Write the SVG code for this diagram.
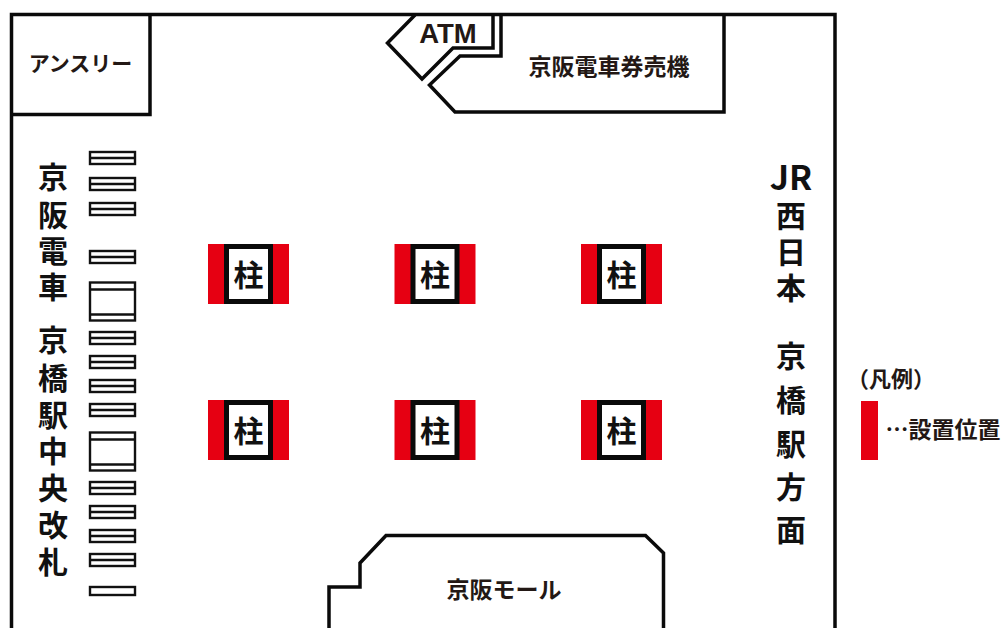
<svg xmlns="http://www.w3.org/2000/svg" width="1001" height="628" viewBox="0 0 1001 628">
<style>
.l{fill:none;stroke:#0a0a0a;stroke-width:3.5;stroke-miterlimit:10}
.g{fill:#fff;stroke:#111;stroke-width:2.400}
.gl{fill:none;stroke:#111;stroke-width:2.400}
.t{font-family:"Noto Sans CJK JP","Noto Sans",sans-serif;font-weight:700;fill:#231815;text-anchor:middle;dominant-baseline:central}
.v{font-size:30px;fill:#111}
.p{font-size:30px;fill:#111}
.red{fill:#e60012}
</style>
<defs>
<g id="gate"><rect class="g" x="90" y="0" width="45" height="12"/><line class="gl" x1="90" y1="6" x2="135" y2="6"/></g>
<g id="wide"><rect class="g" x="90" y="0" width="45" height="38"/><line class="gl" x1="90" y1="7" x2="135" y2="7"/><line class="gl" x1="90" y1="32" x2="135" y2="32"/></g>
<g id="pillar"><rect class="red" x="0" y="0" width="81" height="60"/><rect x="18.500" y="2.500" width="44" height="55" fill="#fff" stroke="#0a0a0a" stroke-width="5"/></g>
</defs>
<rect width="1001" height="628" fill="#fff"/>
<g id="walls"><path class="l" d="M11.500 628V14.500H835V628"/></g>
<g id="anshuri"><path class="l" d="M11.500 114.500H150V14.500"/><text class="t" x="80.500" y="62" font-size="21">アンスリー</text></g>
<g id="atm"><path class="l" d="M415 15L387.500 43L422 79L453 48H493V15"/><text x="448" y="33" font-family="Liberation Sans,sans-serif" font-size="27.500" font-weight="700" fill="#231815" text-anchor="middle" dominant-baseline="central">ATM</text></g>
<g id="ticket"><path class="l" d="M501 15V56H460L429.500 85L455 112H724V15"/><text class="t" x="609" y="65" font-size="23">京阪電車券売機</text></g>
<g id="gates">
<use href="#gate" y="152"/><use href="#gate" y="178"/><use href="#gate" y="203"/><use href="#gate" y="251"/>
<use href="#wide" y="282.500"/>
<use href="#gate" y="332"/><use href="#gate" y="356"/><use href="#gate" y="380"/><use href="#gate" y="404"/>
<use href="#wide" y="432.500"/>
<use href="#gate" y="482"/><use href="#gate" y="506"/><use href="#gate" y="530"/><use href="#gate" y="554"/>
<rect class="g" x="90" y="587" width="45" height="8"/>
</g>
<g id="label-left"><text class="t v"><tspan x="53" y="175">京</tspan><tspan x="53" y="213">阪</tspan><tspan x="53" y="249">電</tspan><tspan x="53" y="285">車</tspan><tspan x="53" y="338">京</tspan><tspan x="53" y="376">橋</tspan><tspan x="53" y="413">駅</tspan><tspan x="53" y="449">中</tspan><tspan x="53" y="486">央</tspan><tspan x="53" y="523">改</tspan><tspan x="53" y="560">札</tspan></text></g>
<g id="label-right"><text class="t v"><tspan x="791" y="175" font-size="34">JR</tspan><tspan x="791" y="214">西</tspan><tspan x="791" y="250">日</tspan><tspan x="791" y="286">本</tspan><tspan x="791" y="354">京</tspan><tspan x="791" y="398">橋</tspan><tspan x="791" y="442">駅</tspan><tspan x="791" y="485">方</tspan><tspan x="791" y="528">面</tspan></text></g>
<g id="pillar-1"><use href="#pillar" x="208" y="244"/><text class="t p" x="248.500" y="273">柱</text></g>
<g id="pillar-2"><use href="#pillar" x="394.500" y="244"/><text class="t p" x="435" y="273">柱</text></g>
<g id="pillar-3"><use href="#pillar" x="581" y="244"/><text class="t p" x="621.500" y="273">柱</text></g>
<g id="pillar-4"><use href="#pillar" x="208" y="400"/><text class="t p" x="248.500" y="429">柱</text></g>
<g id="pillar-5"><use href="#pillar" x="394.500" y="400"/><text class="t p" x="435" y="429">柱</text></g>
<g id="pillar-6"><use href="#pillar" x="581" y="400"/><text class="t p" x="621.500" y="429">柱</text></g>
<g id="mall"><path class="l" d="M329 628V587H360V563L386 535.500H645.500L663.500 553V628"/><text class="t" x="504" y="588" font-size="23">京阪モール</text></g>
<g id="legend">
<text class="t" x="891" y="377" font-size="22">（凡例）</text>
<rect class="red" x="861" y="401" width="17" height="59"/>
<text class="t" x="943" y="428" font-size="23">…設置位置</text>
</g>
<g id="connectors"/>
</svg>
